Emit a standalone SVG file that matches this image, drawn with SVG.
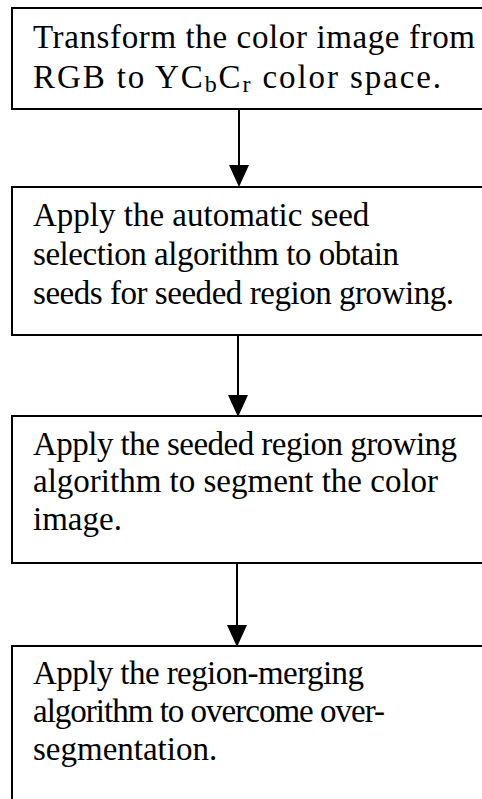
<svg xmlns="http://www.w3.org/2000/svg" width="482" height="799" viewBox="0 0 482 799">
  <defs>
    <style>
      .box { fill: #fff; stroke: #000; stroke-width: 2; }
      .lbl { font-family: 'Liberation Serif', 'Times New Roman', 'DejaVu Serif', serif; font-size: 33px; fill: #000; }
      .sub { font-size: 24px; }
      .edge { stroke: #000; stroke-width: 2; fill: none; }
      .head { fill: #000; }
    </style>
  </defs>
  <rect width="482" height="799" fill="#fff"/>

  <g id="step1">
    <rect class="box" x="12" y="8" width="490" height="101"/>
    <text class="lbl" x="33" y="48" textLength="442" lengthAdjust="spacing">Transform the color image from</text>
    <text class="lbl" x="33" y="88" textLength="408" lengthAdjust="spacing">RGB to YC<tspan class="sub" dy="4">b</tspan><tspan dy="-4">C</tspan><tspan class="sub" dy="4">r</tspan><tspan dy="-4"> color space.</tspan></text>
  </g>

  <g id="step2">
    <rect class="box" x="12" y="187" width="490" height="148"/>
    <text class="lbl" x="33" y="226">Apply the automatic seed</text>
    <text class="lbl" x="33" y="265" textLength="366" lengthAdjust="spacing">selection algorithm to obtain</text>
    <text class="lbl" x="33" y="304" textLength="421" lengthAdjust="spacing">seeds for seeded region growing.</text>
  </g>

  <g id="step3">
    <rect class="box" x="12" y="416" width="490" height="147"/>
    <text class="lbl" x="33" y="455" textLength="424" lengthAdjust="spacing">Apply the seeded region growing</text>
    <text class="lbl" x="33" y="492">algorithm to segment the color</text>
    <text class="lbl" x="33" y="530">image.</text>
  </g>

  <g id="step4">
    <rect class="box" x="12" y="646" width="490" height="180"/>
    <text class="lbl" x="33" y="684" textLength="331" lengthAdjust="spacing">Apply the region-merging</text>
    <text class="lbl" x="33" y="722" textLength="352" lengthAdjust="spacing">algorithm to overcome over-</text>
    <text class="lbl" x="33" y="760">segmentation.</text>
  </g>

  <g id="connectors">
    <line class="edge" x1="239" y1="110" x2="239" y2="168"/>
    <polygon class="head" points="229,165 249,165 239,187"/>
    <line class="edge" x1="238" y1="336" x2="238" y2="398"/>
    <polygon class="head" points="228,395 248,395 238,417"/>
    <line class="edge" x1="237" y1="564" x2="237" y2="628"/>
    <polygon class="head" points="227,625 247,625 237,647"/>
  </g>
</svg>
